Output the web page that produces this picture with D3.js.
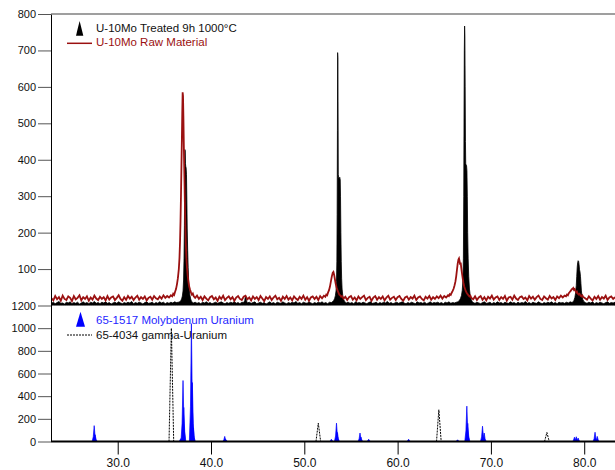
<!DOCTYPE html>
<html>
<head>
<meta charset="utf-8">
<script src="https://cdn.jsdelivr.net/npm/d3@7"></script>
<style>
  html, body { margin: 0; padding: 0; background: #fff; }
  svg { display: block; font-family: Arial, "Liberation Sans", sans-serif; }
</style>
</head>
<body>
<script>
// ---- data: [2theta, counts] ----

// U-10Mo Raw Material (red line)
const rawMaterial = [
  [22.9,20],[23.1,14],[23.3,26],[23.5,17],[23.7,23],[23.9,13],[24.1,27],[24.3,18],[24.5,15],[24.7,25],
  [24.9,21],[25.1,12],[25.3,26],[25.5,17],[25.7,21],[25.9,28],[26.1,14],[26.3,23],[26.5,18],[26.7,25],
  [26.9,13],[27.1,22],[27.3,16],[27.5,27],[27.7,19],[27.9,15],[28.1,24],[28.3,18],[28.5,23],[28.7,14],
  [28.9,26],[29.1,16],[29.3,22],[29.5,25],[29.7,15],[29.9,21],[30.1,28],[30.3,18],[30.5,13],[30.7,23],
  [30.9,16],[31.1,26],[31.3,19],[31.5,24],[31.7,15],[31.9,22],[32.1,27],[32.3,16],[32.5,23],[32.7,18],
  [32.9,25],[33.1,14],[33.3,21],[33.5,24],[33.7,16],[33.9,26],[34.1,20],[34.3,17],[34.5,25],[34.7,19],
  [34.9,28],[35.1,21],[35.3,26],[35.5,22],[35.7,28],
  [35.85,25],[35.95,32],[36.05,29],[36.15,38],[36.25,45],[36.35,58],[36.45,75],[36.55,100],[36.62,130],
  [36.68,175],[36.73,230],[36.78,300],[36.83,380],[36.88,460],[36.92,530],[36.96,585],[37.0,575],
  [37.04,520],[37.08,450],[37.12,390],[37.16,340],[37.2,280],[37.25,220],[37.3,170],[37.36,130],
  [37.42,105],[37.5,82],[37.58,65],[37.66,52],[37.75,44],[37.85,36],[37.95,30],[38.05,33],[38.15,25],
  [38.3,21],[38.5,27],[38.7,18],[38.9,24],[39.1,15],[39.3,25],[39.5,19],[39.7,14],[39.9,23],[40.1,26],
  [40.3,17],[40.5,22],[40.7,13],[40.9,24],[41.1,18],[41.3,27],[41.5,15],[41.7,21],[41.9,25],[42.1,17],
  [42.3,23],[42.5,13],[42.7,22],[42.9,26],[43.1,18],[43.3,15],[43.5,24],[43.7,27],[43.9,17],[44.1,22],
  [44.3,14],[44.5,25],[44.7,18],[44.9,23],[45.1,15],[45.3,26],[45.5,19],[45.7,12],[45.9,23],[46.1,18],
  [46.3,25],[46.5,15],[46.7,22],[46.9,27],[47.1,17],[47.3,21],[47.5,13],[47.7,24],[47.9,18],[48.1,26],
  [48.3,16],[48.5,22],[48.7,14],[48.9,25],[49.1,19],[49.3,15],[49.5,24],[49.7,18],[49.9,27],[50.1,16],
  [50.3,23],[50.5,13],[50.7,22],[50.9,25],[51.1,18],[51.3,24],[51.5,15],[51.7,26],[51.9,20],[52.1,27],
  [52.25,24],[52.35,30],[52.45,28],[52.55,36],[52.65,42],[52.75,52],[52.85,66],[52.95,80],[53.05,90],
  [53.12,92],[53.2,84],[53.28,72],[53.36,60],[53.45,50],[53.55,42],[53.65,36],[53.75,30],[53.85,28],
  [53.95,24],[54.05,26],
  [54.2,19],[54.4,24],[54.6,15],[54.8,23],[55.0,26],[55.2,16],[55.4,22],[55.6,14],[55.8,25],[56.0,18],
  [56.2,23],[56.4,27],[56.6,15],[56.8,21],[57.0,24],[57.2,13],[57.4,22],[57.6,26],[57.8,16],[58.0,23],
  [58.2,18],[58.4,25],[58.6,14],[58.8,22],[59.0,27],[59.2,16],[59.4,21],[59.6,24],[59.8,15],[60.0,23],
  [60.2,26],[60.4,18],[60.6,13],[60.8,22],[61.0,25],[61.2,16],[61.4,23],[61.6,19],[61.8,27],[62.0,15],
  [62.2,22],[62.4,25],[62.6,18],[62.8,14],[63.0,24],[63.2,19],[63.4,26],[63.6,16],[63.8,23],[64.0,18],
  [64.2,25],[64.4,20],[64.6,27],[64.8,19],[65.0,26],[65.2,22],[65.4,28],
  [65.5,26],[65.6,31],[65.7,29],[65.8,35],[65.9,40],[66.0,46],[66.1,55],[66.2,66],[66.28,80],[66.36,98],
  [66.44,115],[66.52,126],[66.58,129],[66.64,122],[66.7,112],[66.76,118],[66.82,104],[66.9,88],
  [66.98,74],[67.06,62],[67.14,52],[67.22,46],[67.3,40],[67.4,35],[67.5,31],[67.6,28],[67.7,25],[67.8,27],
  [67.9,21],[68.1,17],[68.3,25],[68.5,15],[68.7,22],[68.9,26],[69.1,16],[69.3,23],[69.5,14],[69.7,24],
  [69.9,19],[70.1,27],[70.3,16],[70.5,22],[70.7,25],[70.9,15],[71.1,23],[71.3,18],[71.5,26],[71.7,13],
  [71.9,22],[72.1,24],[72.3,16],[72.5,27],[72.7,19],[72.9,15],[73.1,23],[73.3,25],[73.5,18],[73.7,22],
  [73.9,14],[74.1,26],[74.3,19],[74.5,24],[74.7,16],[74.9,23],[75.1,27],[75.3,18],[75.5,15],[75.7,25],
  [75.9,20],[76.1,16],[76.3,26],[76.5,19],[76.7,23],[76.9,15],[77.1,25],[77.3,20],[77.5,27],[77.7,22],
  [77.9,27],
  [78.05,25],[78.15,30],[78.25,28],[78.35,34],[78.45,37],[78.55,40],[78.65,44],[78.75,46],[78.82,48],
  [78.9,43],[78.98,45],[79.06,40],[79.14,36],[79.22,38],[79.3,33],[79.4,30],[79.5,32],[79.6,27],
  [79.7,25],[79.8,28],[79.9,23],
  [80.1,20],[80.3,16],[80.5,25],[80.7,19],[80.9,14],[81.1,24],[81.3,18],[81.5,26],[81.7,16],[81.9,23],
  [82.1,19],[82.3,27],[82.5,15],[82.7,22],[82.9,25],[83.1,18],[83.3,23]
];

// U-10Mo Treated 9h 1000ºC (black, filled)
const treated = [
  [22.9,6],[23.1,9],[23.3,5],[23.5,8],[23.7,11],[23.9,6],[24.1,7],[24.3,4],[24.5,9],[24.7,7],
  [24.9,10],[25.1,5],[25.3,8],[25.5,6],[25.7,9],[25.9,4],[26.1,7],[26.3,10],[26.5,6],[26.7,8],
  [26.9,5],[27.1,9],[27.3,7],[27.5,11],[27.7,6],[27.9,8],[28.1,5],[28.3,9],[28.5,7],[28.7,10],
  [28.9,6],[29.1,8],[29.3,4],[29.5,7],[29.7,9],[29.9,6],[30.1,10],[30.3,7],[30.5,5],[30.7,8],
  [30.9,6],[31.1,9],[31.3,7],[31.5,11],[31.7,5],[31.9,8],[32.1,6],[32.3,9],[32.5,7],[32.7,4],
  [32.9,8],[33.1,10],[33.3,6],[33.5,7],[33.7,9],[33.9,5],[34.1,8],[34.3,6],[34.5,10],[34.7,7],
  [34.9,9],[35.1,5],[35.3,8],[35.5,6],[35.7,9],[35.9,7],[36.1,10],[36.3,8],[36.5,9],
  [36.65,10],[36.75,13],[36.85,18],[36.93,26],[37.0,40],[37.06,70],[37.11,130],[37.15,220],[37.18,330],
  [37.2,428],[37.23,425],[37.26,390],[37.29,382],[37.33,378],[37.37,360],[37.41,290],[37.45,210],
  [37.5,150],[37.55,105],[37.6,70],[37.66,45],[37.74,28],[37.82,18],[37.9,12],[38.0,9],
  [38.1,7],[38.3,9],[38.5,6],[38.7,8],[38.9,5],[39.1,9],[39.3,7],[39.5,10],[39.7,6],[39.9,8],
  [40.1,5],[40.3,7],[40.5,9],[40.7,6],[40.9,8],[41.1,10],[41.3,7],[41.5,5],[41.7,8],[41.9,6],
  [42.1,9],[42.3,7],[42.5,11],[42.7,6],[42.9,8],[43.1,5],[43.3,9],[43.5,8],[43.62,14],[43.66,22],
  [43.76,23],[43.8,13],[43.9,7],[44.1,9],[44.3,6],[44.5,8],[44.7,10],[44.9,5],[45.1,7],[45.3,9],
  [45.5,6],[45.7,8],[45.9,4],[46.1,7],[46.3,10],[46.5,6],[46.7,8],[46.9,5],[47.1,9],[47.3,7],
  [47.5,6],[47.7,10],[47.9,7],[48.1,5],[48.3,8],[48.5,6],[48.7,9],[48.9,7],[49.1,11],[49.3,6],
  [49.5,8],[49.7,5],[49.9,9],[50.1,7],[50.3,6],[50.5,10],[50.7,7],[50.9,5],[51.1,8],[51.3,6],
  [51.5,9],[51.7,7],[51.9,10],[52.1,6],[52.3,8],[52.5,5],[52.7,9],[52.9,8],
  [53.05,11],[53.15,14],[53.25,19],[53.33,27],[53.4,40],[53.45,65],[53.49,120],[53.52,250],[53.55,480],
  [53.57,694],[53.6,680],[53.62,520],[53.64,360],[53.68,352],[53.74,348],[53.8,352],[53.85,345],
  [53.88,300],[53.92,200],[53.96,120],[54.0,75],[54.05,45],[54.12,28],[54.2,18],[54.3,12],[54.4,9],
  [54.5,7],[54.7,9],[54.9,6],[55.1,8],[55.3,5],[55.5,10],[55.7,7],[55.9,8],[56.1,6],[56.3,9],
  [56.5,7],[56.7,5],[56.9,8],[57.1,10],[57.3,6],[57.5,7],[57.7,9],[57.9,5],[58.1,8],[58.3,6],
  [58.5,9],[58.7,7],[58.9,11],[59.1,6],[59.3,8],[59.5,5],[59.7,7],[59.9,9],[60.1,6],[60.3,8],
  [60.5,10],[60.7,7],[60.9,5],[61.1,8],[61.3,6],[61.5,9],[61.7,7],[61.9,5],[62.1,10],[62.3,7],
  [62.5,8],[62.7,6],[62.9,9],[63.1,5],[63.3,7],[63.5,10],[63.7,6],[63.9,8],[64.1,7],[64.3,9],
  [64.5,6],[64.7,8],[64.9,5],[65.1,9],[65.3,7],[65.5,10],[65.7,6],[65.9,8],[66.1,7],[66.3,9],[66.45,10],
  [66.55,12],[66.65,15],[66.75,20],[66.85,28],[66.93,42],[67.0,70],[67.05,130],[67.09,300],[67.12,520],
  [67.15,700],[67.18,767],[67.21,740],[67.24,600],[67.27,450],[67.3,390],[67.34,386],[67.39,384],
  [67.43,370],[67.47,300],[67.51,200],[67.56,130],[67.62,80],[67.7,45],[67.78,28],[67.88,17],[68.0,11],
  [68.1,8],[68.3,6],[68.5,9],[68.7,7],[68.9,5],[69.1,8],[69.3,10],[69.5,6],[69.7,7],[69.9,9],
  [70.1,5],[70.3,8],[70.5,6],[70.7,10],[70.9,7],[71.1,8],[71.3,5],[71.5,9],[71.7,7],[71.9,6],
  [72.1,10],[72.3,7],[72.5,8],[72.7,5],[72.9,9],[73.1,6],[73.3,8],[73.5,7],[73.7,11],[73.9,6],
  [74.1,8],[74.3,5],[74.5,9],[74.7,7],[74.9,6],[75.1,10],[75.3,7],[75.5,5],[75.7,8],[75.9,6],
  [76.1,9],[76.3,7],[76.5,10],[76.7,6],[76.9,8],[77.1,5],[77.3,9],[77.5,7],[77.7,8],[77.9,6],
  [78.1,9],[78.3,7],[78.5,10],[78.7,8],
  [78.8,10],[78.9,14],[79.0,22],[79.08,35],[79.15,55],[79.2,80],[79.25,105],[79.3,118],[79.35,123],
  [79.4,121],[79.45,112],[79.5,98],[79.55,92],[79.6,80],[79.65,60],[79.7,40],[79.76,26],[79.84,17],[79.94,12],
  [80.1,8],[80.3,6],[80.5,9],[80.7,7],[80.9,10],[81.1,5],[81.3,8],[81.5,6],[81.7,9],[81.9,7],
  [82.1,5],[82.3,8],[82.5,10],[82.7,6],[82.9,8],[83.1,7],[83.3,9]
];

// reference cards: [2theta, relative intensity]
const molyUranium = [
  [27.48,140],[27.58,60],[36.75,25],[37.0,538],[37.08,300],[37.9,1040],[38.0,520],[38.1,120],
  [41.47,45],[41.57,20],[52.9,20],[53.45,162],[53.55,80],[55.97,75],[56.07,40],[56.9,20],
  [61.18,20],[66.43,15],[67.42,312],[67.52,160],[69.1,135],[69.28,75],
  [78.95,38],[79.15,42],[79.35,30],[81.16,82],[81.4,45]
];
const gammaUranium = [[35.75,1000],[51.5,162],[64.42,280],[76.0,80]];

// axis ticks
const xTicks = [30, 40, 50, 60, 70, 80];
const topTicks = [100, 200, 300, 400, 500, 600, 700, 800];
const bottomTicks = [0, 200, 400, 600, 800, 1000, 1200];

// legend labels
const topLegend = ['U-10Mo Treated 9h 1000°C', 'U-10Mo Raw Material'];
const bottomLegend = ['65-1517 Molybdenum Uranium', '65-4034 gamma-Uranium'];

(function() {
  // ---- layout ----
  const W = 615, H = 470;
  const plotLeft = 51, plotRight = 615;
  const plotTop = 14, split = 305.5, plotBottom = 441.5;
  const red = '#9b1111', blue = '#0000ff';

  const svg = d3.select('body').append('svg')
    .attr('width', W)
    .attr('height', H);

  const x = d3.scaleLinear().domain([22.85, 83.3]).range([plotLeft, plotRight]);
  const yTop = d3.scaleLinear().domain([0, 800]).range([split, plotTop]);
  const yBot = d3.scaleLinear().domain([0, 1200]).range([plotBottom, split]);

  const defs = svg.append('defs');
  defs.append('clipPath').attr('id', 'clipTop').append('rect')
    .attr('x', plotLeft).attr('y', plotTop)
    .attr('width', plotRight - plotLeft).attr('height', split - plotTop);
  defs.append('clipPath').attr('id', 'clipBot').append('rect')
    .attr('x', plotLeft).attr('y', split)
    .attr('width', plotRight - plotLeft).attr('height', plotBottom - split);

  // ---- top panel: measured patterns ----
  const topG = svg.append('g').attr('clip-path', 'url(#clipTop)');

  const treatedArea = d3.area()
    .x(d => x(d[0]))
    .y0(yTop(0))
    .y1(d => yTop(d[1]));

  topG.append('path')
    .datum(treated)
    .attr('d', treatedArea)
    .attr('fill', '#000')
    .attr('stroke', '#000')
    .attr('stroke-width', 0.8);

  const rawLine = d3.line()
    .x(d => x(d[0]))
    .y(d => yTop(d[1]));

  topG.append('path')
    .datum(rawMaterial)
    .attr('d', rawLine)
    .attr('fill', 'none')
    .attr('stroke', red)
    .attr('stroke-width', 1.8)
    .attr('stroke-linejoin', 'miter');

  // ---- bottom panel: reference cards ----
  const botG = svg.append('g').attr('clip-path', 'url(#clipBot)');
  const peakLine = d3.line().x(d => x(d[0])).y(d => yBot(d[1]));

  // narrow peak outline around a card line
  function peakShape(p, hw, k) {
    return [[p[0] - hw, 0], [p[0] - hw * k, p[1] * 0.3], [p[0], p[1]],
            [p[0] + hw * k, p[1] * 0.3], [p[0] + hw, 0]];
  }

  botG.selectAll('.moly')
    .data(molyUranium)
    .enter()
    .append('path')
      .attr('class', 'moly')
      .attr('d', d => peakLine(peakShape(d, 0.22, 0.45)))
      .attr('fill', blue)
      .attr('stroke', blue)
      .attr('stroke-width', 0.7);

  botG.selectAll('.gamma')
    .data(gammaUranium)
    .enter()
    .append('path')
      .attr('class', 'gamma')
      .attr('d', d => peakLine(peakShape(d, 0.25, 0.7)))
      .attr('fill', 'none')
      .attr('stroke', '#000')
      .attr('stroke-width', 1)
      .attr('stroke-dasharray', '2,1');

  // ---- axes ----
  function styleAxis(g) {
    g.select('.domain').remove();
    g.selectAll('line').attr('stroke', '#555');
    g.selectAll('text')
      .attr('fill', '#111')
      .style('font-size', '11px')
      .style('font-family', 'Arial, "Liberation Sans", sans-serif');
  }

  svg.append('g')
    .attr('transform', `translate(${plotLeft},0)`)
    .call(d3.axisLeft(yTop).tickValues(topTicks).tickSize(13).tickPadding(2).tickFormat(d3.format('d')))
    .call(styleAxis);

  svg.append('g')
    .attr('transform', `translate(${plotLeft},0)`)
    .call(d3.axisLeft(yBot).tickValues(bottomTicks).tickSize(13).tickPadding(2).tickFormat(d3.format('d')))
    .call(styleAxis);

  // left spine and grey top border
  svg.append('line')
    .attr('x1', plotLeft + 0.5).attr('x2', plotLeft + 0.5)
    .attr('y1', plotTop).attr('y2', plotBottom)
    .attr('stroke', '#000').attr('stroke-width', 1);

  svg.append('line')
    .attr('x1', plotLeft).attr('x2', plotRight)
    .attr('y1', plotTop).attr('y2', plotTop)
    .attr('stroke', '#7f7f7f').attr('stroke-width', 1.7);

  // bottom axis
  const xAxisG = svg.append('g')
    .attr('transform', `translate(0,${plotBottom})`)
    .call(d3.axisBottom(x).tickValues(xTicks).tickSize(13).tickPadding(3.5).tickFormat(d3.format('.1f')));
  xAxisG.select('.domain').remove();
  xAxisG.selectAll('line').attr('stroke', '#000');
  xAxisG.selectAll('text')
    .attr('fill', '#111')
    .style('font-size', '12px')
    .style('font-family', 'Arial, "Liberation Sans", sans-serif');

  svg.append('line')
    .attr('x1', plotLeft).attr('x2', plotRight)
    .attr('y1', plotBottom).attr('y2', plotBottom)
    .attr('stroke', '#000').attr('stroke-width', 2);

  // ---- legends ----
  svg.append('path')
    .attr('d', 'M76,35.7L79.6,21L83.3,35.7Z')
    .attr('fill', '#000');

  svg.append('text')
    .attr('x', 96).attr('y', 31.7)
    .style('font-size', '11.5px')
    .attr('fill', '#111')
    .text(topLegend[0]);

  svg.append('line')
    .attr('x1', 67).attr('x2', 92)
    .attr('y1', 43.3).attr('y2', 43.3)
    .attr('stroke', red).attr('stroke-width', 1.5);

  svg.append('text')
    .attr('x', 96).attr('y', 45.7)
    .style('font-size', '11.5px')
    .attr('fill', red)
    .text(topLegend[1]);

  svg.append('path')
    .attr('d', 'M76,326.7L80.5,311.7L85,326.7Z')
    .attr('fill', blue);

  svg.append('text')
    .attr('x', 96).attr('y', 324.3)
    .style('font-size', '11.5px')
    .attr('fill', '#1f1fff')
    .text(bottomLegend[0]);

  svg.append('line')
    .attr('x1', 67).attr('x2', 92)
    .attr('y1', 335).attr('y2', 335)
    .attr('stroke', '#000').attr('stroke-width', 1)
    .attr('stroke-dasharray', '2,1');

  svg.append('text')
    .attr('x', 96).attr('y', 338.5)
    .style('font-size', '11.5px')
    .attr('fill', '#111')
    .text(bottomLegend[1]);
})();
</script>
</body>
</html>
